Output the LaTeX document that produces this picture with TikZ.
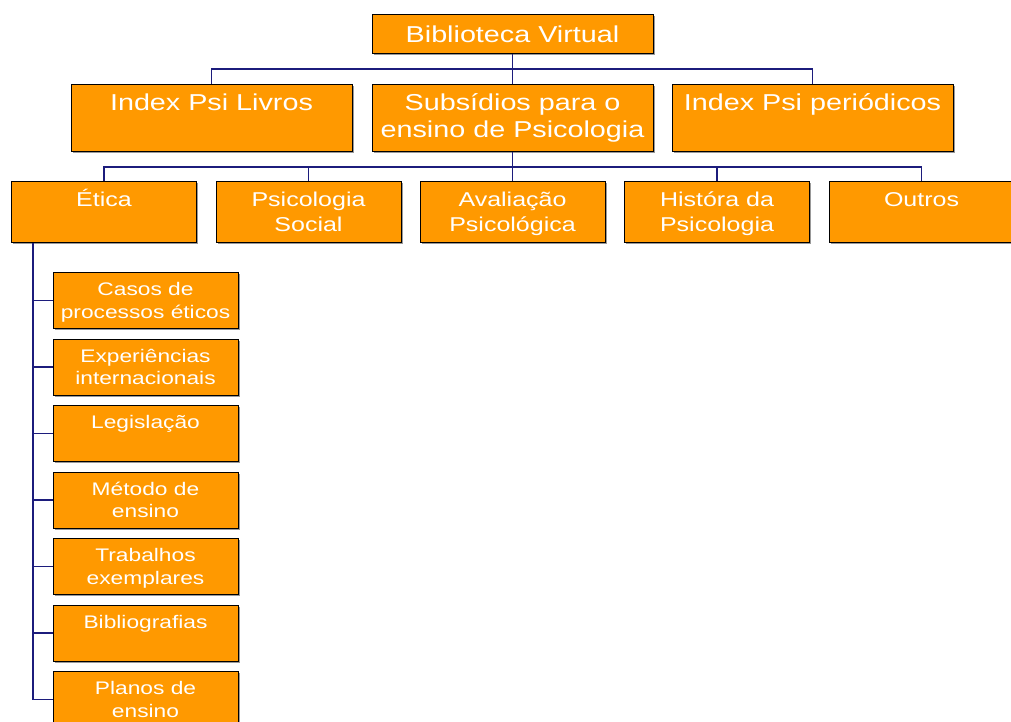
\documentclass[tikz,border=0pt]{standalone}
\usepackage{fontspec}
\newfontfamily\boxfont[FakeStretch=1.25]{Liberation Sans}
\usetikzlibrary{shadows}
\definecolor{boxorange}{HTML}{FF9900}
\definecolor{linkblue}{HTML}{1C1C7C}
\tikzset{
  box/.style={draw=black, line width=1pt, fill=boxorange, text=white, inner sep=0pt,
    anchor=north, align=center,
    drop shadow={shadow xshift=1.5pt, shadow yshift=-1.5pt, fill=black!40, opacity=1}},
  bigbox/.style={box, minimum width=281pt, text height=26pt, text depth=41pt,
    font=\boxfont\fontsize{23}{27.5}\selectfont},
  midbox/.style={box, minimum width=185pt, text height=25pt, text depth=36pt,
    font=\boxfont\fontsize{20}{25}\selectfont},
  midtwo/.style={midbox, text height=50pt, text depth=11pt},
  smallbox/.style={box, minimum width=185pt,
    font=\boxfont\fontsize{18.2}{22.5}\selectfont},
  link/.style={draw=linkblue, line width=1.3pt}
}
\begin{document}
\begin{tikzpicture}[x=1pt,y=-1pt]
  \useasboundingbox (0,0) rectangle (1011,722);
  % topo
  \node[bigbox, text height=27.7pt, text depth=11.3pt] (bib) at (512.5,14) {Biblioteca Virtual};
  \node[bigbox] (livros) at (211.5,84) {Index Psi Livros};
  \node[bigbox, text height=53.5pt, text depth=13.5pt] (sub) at (512.5,84) {Subsídios para o\\ensino de Psicologia};
  \node[bigbox] (period) at (812.5,84) {Index Psi periódicos};
  \coordinate (bus1) at ([yshift=-15pt]bib.south);
  \draw[link] (bib.south) -- (sub.north);
  \draw[link] (livros.north) |- (bus1) -| (period.north);
  % subsidios
  \node[midbox] (etica) at (104,181) {Ética};
  \node[midtwo] (social) at (308.5,181) {Psicologia\\Social};
  \node[midtwo] (aval) at (512.5,181) {Avaliação\\Psicológica};
  \node[midtwo] (hist) at (717,181) {Históra da\\Psicologia};
  \node[midbox] (outros) at (921.5,181) {Outros};
  \coordinate (bus2) at ([yshift=-15pt]sub.south);
  \draw[link] (sub.south) -- (bus2);
  \draw[link] (etica.north) |- (bus2) -| (outros.north);
  \foreach \n in {social,aval,hist}
    \draw[link] (\n.north) -- (\n.north |- bus2);
  % etica
  \coordinate (spine) at ([xshift=22pt]etica.south west);
  \foreach \txt/\nl [count=\i, evaluate=\nl as \th using 23+22.5*(\nl-1),
      evaluate=\nl as \td using 33-22.5*(\nl-1)] in
      {Casos de\\processos éticos/2, Experiências\\internacionais/2, Legislação/1,
       Método de\\ensino/2, Trabalhos\\exemplares/2, Bibliografias/1, Planos de\\ensino/2}{
    \node[smallbox, text height=\th pt, text depth=\td pt] (c\i) at (145.5,205.5+66.5*\i) {\txt};
    \draw[link] (spine) |- (c\i.west);
  }
\end{tikzpicture}
\end{document}
